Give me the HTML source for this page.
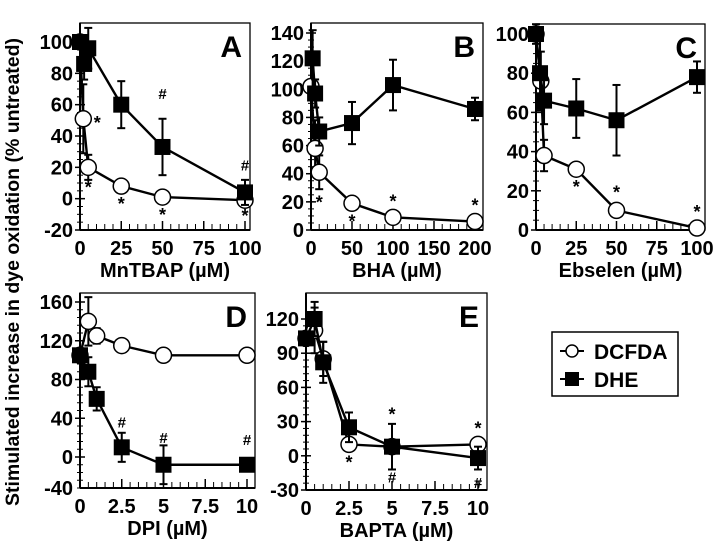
<!DOCTYPE html>
<html><head><meta charset="utf-8"><style>
html,body{margin:0;padding:0;background:#fff;}
svg{display:block;font-family:"Liberation Sans",Arial,sans-serif;font-weight:bold;}
</style></head><body>
<svg id="fig" width="720" height="545" viewBox="0 0 720 545">
<text x="0" y="0" transform="translate(19,272) rotate(-90)" text-anchor="middle" font-size="19.5">Stimulated increase in dye oxidation (% untreated)</text>
<g>
<rect x="552" y="332" width="126" height="64" fill="#fff" stroke="#000" stroke-width="1.5"/>
<g>
<line x1="560" y1="351" x2="584" y2="351" stroke="#000" stroke-width="2"/>
<circle cx="572" cy="351" r="6" fill="#fff" stroke="#000" stroke-width="1.5"/>
<text x="594" y="359" font-size="21">DCFDA</text></g>
<g>
<line x1="560" y1="379" x2="584" y2="379" stroke="#000" stroke-width="2"/>
<rect x="565" y="372" width="14" height="14" fill="#000"/>
<text x="594" y="387" font-size="21">DHE</text></g>
</g>
</svg>
<script>
// Panel A: MnTBAP
const aDcfdaX=[0,2,5,25,50,100], aDcfdaY=[100,51,20,8,1,-1], aDcfdaE=[0,22,8,2,2,3];
const aDheX=[0,2.5,5,25,50,100], aDheY=[100,86,96,60,33,4], aDheE=[3,10,13,15,18,8];
const aYTicks=[-20,0,20,40,60,80,100], aXTicks=[0,25,50,75,100];
// Panel B: BHA
const bDcfdaX=[0,5,10,50,100,200], bDcfdaY=[102,58,41,19,9,6], bDcfdaE=[0,20,12,2,2,2];
const bDheX=[2,5,10,50,100,200], bDheY=[122,97,70,76,103,86], bDheE=[20,10,10,15,18,8];
const bYTicks=[0,20,40,60,80,100,120,140], bXTicks=[0,50,100,150,200];
// Panel C: Ebselen
const cDcfdaX=[0,3,5,25,50,100], cDcfdaY=[100,76,38,31,10,1], cDcfdaE=[0,15,8,2,3,3];
const cDheX=[0,2.5,5,25,50,100], cDheY=[100,80,66,62,56,78], cDheE=[5,18,12,15,18,8];
const cYTicks=[0,20,40,60,80,100], cXTicks=[0,25,50,75,100];
// Panel D: DPI
const dDcfdaX=[0,0.5,1,2.5,5,10], dDcfdaY=[105,140,125,115,105,105], dDcfdaE=[0,25,8,2,2,2];
const dDheX=[0,0.5,1,2.5,5,10], dDheY=[105,88,60,10,-8,-8], dDheE=[5,15,12,15,20,6];
const dYTicks=[0,40,80,120,160], dXTicks=[0,2.5,5,7.5,10];
// Panel E: BAPTA
const eDcfdaX=[0,0.5,1,2.5,5,10], eDcfdaY=[103,110,85,10,8,10], eDcfdaE=[0,20,15,5,5,3];
const eDheX=[0,0.5,1,2.5,5,10], eDheY=[103,120,82,25,8,-2], eDheE=[3,15,18,13,20,10];
const eYTicks=[-30,0,30,60,90,120], eXTicks=[0,2.5,5,7.5,10];

const NS="http://www.w3.org/2000/svg";
const svg=document.getElementById('fig');
function mk(tag,attrs,parent){const e=document.createElementNS(NS,tag);for(const k in attrs)e.setAttribute(k,attrs[k]);(parent||svg).appendChild(e);return e;}

function panel(p){
  const g=mk('g',{});
  
  
  const sx=v=>p.l+(v-p.x0)/(p.x1-p.x0)*(p.xr-p.l);
  const sy=v=>p.b-(v-p.y0)/(p.y1-p.y0)*(p.b-p.yt);
  const fr=mk('rect',{x:p.l,y:p.t,width:p.r-p.l,height:p.b-p.t,fill:'none',stroke:'#000','stroke-width':1.3},g);
  
  
  mk('line',{x1:p.l,y1:p.t,x2:p.l,y2:p.b,stroke:'#000','stroke-width':2},g);
  mk('line',{x1:p.l,y1:p.b,x2:p.r,y2:p.b,stroke:'#000','stroke-width':2},g);
  for(let v=p.y0;v<=p.y1+1e-9;v+=p.my){const y=sy(v);if(y<p.t-1)break;mk('line',{x1:p.l-3,y1:y,x2:p.l+3,y2:y,stroke:'#000','stroke-width':1},g);}
  for(let v=p.x0;v<=p.x1+1e-9;v+=p.mx){const x=sx(v);if(x>p.r)break;mk('line',{x1:x,y1:p.b,x2:x,y2:p.b-6,stroke:'#000','stroke-width':1},g);}
  p.yTicks.forEach(v=>{const y=sy(v);
    mk('line',{x1:p.l-5,y1:y,x2:p.l+5,y2:y,stroke:'#000','stroke-width':1.5},g);
    const t=mk('text',{x:p.l-7,y:y+7,'text-anchor':'end','font-size':20},g);t.textContent=v;
    
    });
  p.xTicks.forEach(v=>{const x=sx(v);
    mk('line',{x1:x,y1:p.b,x2:x,y2:p.b-9,stroke:'#000','stroke-width':1.5},g);
    const t=mk('text',{x:x,y:p.b+25,'text-anchor':'middle','font-size':20},g);t.textContent=v;
    
    });
  const xt=mk('text',{x:(p.l+p.r)/2,y:p.b+47,'text-anchor':'middle','font-size':20},g);xt.textContent=p.xlabel;
  
  
  const lt=mk('text',{x:p.r-8,y:p.t+34,'text-anchor':'end','font-size':30},g);lt.textContent=p.id;
  
  
  function series(xs,ys,es,kind){
    const sg=mk('g',{},g);
    
    
    mk('polyline',{points:xs.map((x,i)=>sx(x)+','+sy(ys[i])).join(' '),fill:'none',stroke:'#000','stroke-width':2.4},sg);
    xs.forEach((x,i)=>{if(!es[i])return;const X=sx(x);
      mk('line',{x1:X,y1:sy(ys[i]-es[i]),x2:X,y2:sy(ys[i]+es[i]),stroke:'#000','stroke-width':2},sg);
      mk('line',{x1:X-4,y1:sy(ys[i]+es[i]),x2:X+4,y2:sy(ys[i]+es[i]),stroke:'#000','stroke-width':2},sg);
      mk('line',{x1:X-4,y1:sy(ys[i]-es[i]),x2:X+4,y2:sy(ys[i]-es[i]),stroke:'#000','stroke-width':2},sg);});
    return sg;
  }
  const ci=series(p.dcX,p.dcY,p.dcE,'ci');
  const sq=series(p.dheX,p.dheY,p.dheE,'sq');
  p.dcX.forEach((x,i)=>{const m=mk('circle',{cx:sx(x),cy:sy(p.dcY[i]),r:8,fill:'#fff',stroke:'#000','stroke-width':1.5},ci);
    
    });
  p.dheX.forEach((x,i)=>{const m=mk('rect',{x:sx(x)-8,y:sy(p.dheY[i])-8,width:16,height:16,fill:'#000'},sq);
    
    });
  (p.marks||[]).forEach(m=>{const t=mk('text',{x:sx(m[0])+(m[3]||0),y:sy(m[1])+m[2],'text-anchor':'middle','font-size':m[4]||16},g);t.textContent=m[5];
    
    });
}

panel({id:'A',l:80,r:250,t:23,b:230,yt:42,xr:245,x0:0,x1:100,y0:-20,y1:100,my:5,mx:5,
  yTicks:aYTicks,xTicks:aXTicks,xlabel:'MnTBAP (\u00b5M)',
  dcX:aDcfdaX,dcY:aDcfdaY,dcE:aDcfdaE,dheX:aDheX,dheY:aDheY,dheE:aDheE,
  marks:[[2,51,10,14,18,'*'],[5,20,26,0,18,'*'],[25,8,24,0,18,'*'],[50,1,24,0,18,'*'],[100,-1,22,0,18,'*'],[50,33,-48,0,15,'#'],[100,4,-22,0,15,'#']]});
panel({id:'B',l:311,r:483,t:23,b:230,yt:33,xr:475,x0:0,x1:200,y0:0,y1:140,my:5,mx:10,
  yTicks:bYTicks,xTicks:bXTicks,xlabel:'BHA (\u00b5M)',
  dcX:bDcfdaX,dcY:bDcfdaY,dcE:bDcfdaE,dheX:bDheX,dheY:bDheY,dheE:bDheE,
  marks:[[10,41,36,0,18,'*'],[50,19,24,0,18,'*'],[100,9,-10,0,18,'*'],[200,6,-10,0,18,'*']]});
panel({id:'C',l:536,r:705,t:24,b:230,yt:34,xr:697,x0:0,x1:100,y0:0,y1:100,my:5,mx:5,
  yTicks:cYTicks,xTicks:cXTicks,xlabel:'Ebselen (\u00b5M)',
  dcX:cDcfdaX,dcY:cDcfdaY,dcE:cDcfdaE,dheX:cDheX,dheY:cDheY,dheE:cDheE,
  marks:[[25,31,24,0,18,'*'],[50,10,-12,0,18,'*'],[100,1,-10,0,18,'*']]});
panel({id:'D',l:80,r:255,t:293,b:488,yt:302,xr:247,x0:0,x1:10,y0:-32,y1:160,my:8,mx:0.5,
  yTicks:dYTicks,xTicks:dXTicks,xlabel:'DPI (\u00b5M)',
  dcX:dDcfdaX,dcY:dDcfdaY,dcE:dDcfdaE,dheX:dDheX,dheY:dDheY,dheE:dDheE,
  marks:[[2.5,10,-20,0,15,'#'],[5,-8,-22,0,15,'#'],[10,-8,-20,0,15,'#']]});
panel({id:'E',l:306,r:487,t:293,b:490,yt:319,xr:478,x0:0,x1:10,y0:-30,y1:120,my:6,mx:0.5,
  yTicks:eYTicks,xTicks:eXTicks,xlabel:'BAPTA (\u00b5M)',
  dcX:eDcfdaX,dcY:eDcfdaY,dcE:eDcfdaE,dheX:eDheX,dheY:eDheY,dheE:eDheE,
  marks:[[2.5,10,24,0,18,'*'],[5,8,-26,0,18,'*'],[5,8,36,0,15,'#'],[10,10,-10,0,18,'*'],[10,-2,30,0,15,'#']]});
(function(){const t=mk('text',{x:73,y:495,'text-anchor':'end','font-size':20});t.textContent='-40';

})();
</script>
</body></html>
